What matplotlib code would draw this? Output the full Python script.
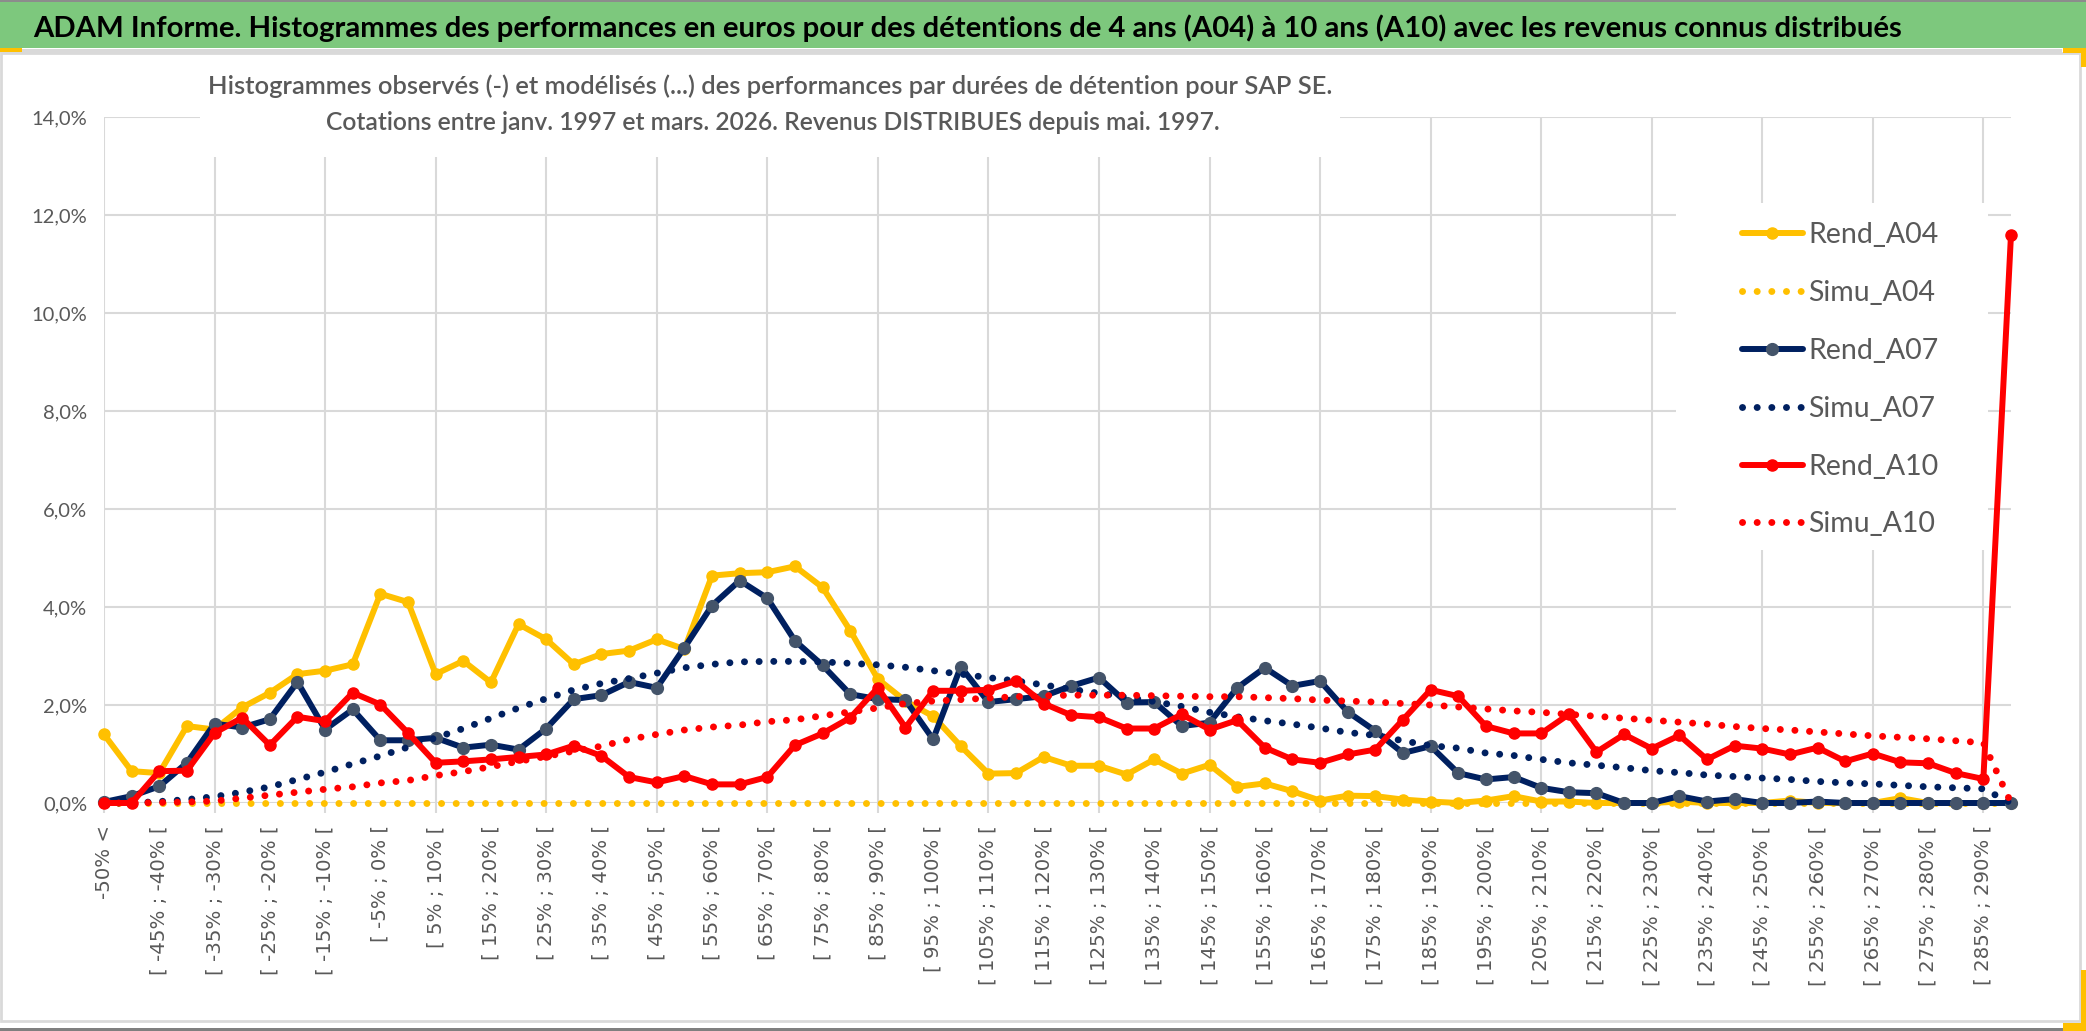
import matplotlib
matplotlib.use("Agg")
import matplotlib.pyplot as plt
from matplotlib.patches import Rectangle

plt.rcParams['font.family'] = ['Lato', 'DejaVu Sans']

# categories: "-50% <" then 5% bins
categories = ["-50% <"] + ["[ %d%% ; %d%% [" % (lo, lo + 5) for lo in range(-50, 295, 5)]

# values in %
rend_a04 = [1.40, 0.65, 0.61, 1.57, 1.50, 1.95, 2.25, 2.63, 2.70, 2.83,
            4.27, 4.10, 2.63, 2.90, 2.46, 3.65, 3.34, 2.83, 3.04, 3.11,
            3.34, 3.14, 4.64, 4.69, 4.71, 4.83, 4.40, 3.52, 2.53, 2.08,
            1.77, 1.16, 0.60, 0.61, 0.94, 0.76, 0.76, 0.58, 0.89, 0.60,
            0.78, 0.33, 0.40, 0.24, 0.05, 0.15, 0.14, 0.07, 0.03, 0.00,
            0.05, 0.14, 0.03, 0.03, 0.00, 0.00, 0.00, 0.03, 0.00, 0.00,
            0.00, 0.05, 0.00, 0.00, 0.00, 0.10, 0.00, 0.00, 0.00, 0.00]
simu_a04 = [0.00, 0.00, 0.00, 0.00, 0.00, 0.00, 0.00, 0.00, 0.00, 0.00,
            0.00, 0.00, 0.00, 0.00, 0.00, 0.00, 0.00, 0.00, 0.00, 0.00,
            0.00, 0.00, 0.00, 0.00, 0.00, 0.00, 0.00, 0.00, 0.00, 0.00,
            0.00, 0.00, 0.00, 0.00, 0.00, 0.00, 0.00, 0.00, 0.00, 0.00,
            0.00, 0.00, 0.00, 0.00, 0.00, 0.00, 0.00, 0.00, 0.00, 0.00,
            0.00, 0.00, 0.00, 0.00, 0.00, 0.00, 0.00, 0.00, 0.00, 0.00,
            0.00, 0.00, 0.00, 0.00, 0.00, 0.00, 0.00, 0.00, 0.00, 0.00]
rend_a07 = [0.02, 0.14, 0.34, 0.82, 1.62, 1.54, 1.71, 2.47, 1.50, 1.91,
            1.28, 1.28, 1.33, 1.13, 1.19, 1.09, 1.52, 2.12, 2.20, 2.47,
            2.35, 3.17, 4.03, 4.54, 4.18, 3.31, 2.81, 2.22, 2.12, 2.10,
            1.30, 2.78, 2.06, 2.12, 2.18, 2.39, 2.56, 2.05, 2.06, 1.57,
            1.64, 2.35, 2.76, 2.39, 2.49, 1.86, 1.47, 1.02, 1.16, 0.61,
            0.48, 0.53, 0.31, 0.22, 0.20, 0.00, 0.00, 0.14, 0.03, 0.08,
            0.00, 0.00, 0.03, 0.00, 0.00, 0.00, 0.00, 0.00, 0.00, 0.00]
simu_a07 = [0.00, 0.00, 0.03, 0.07, 0.13, 0.22, 0.33, 0.48, 0.63, 0.80,
            0.96, 1.14, 1.33, 1.52, 1.73, 1.94, 2.13, 2.31, 2.44, 2.54,
            2.65, 2.76, 2.83, 2.88, 2.89, 2.89, 2.88, 2.85, 2.82, 2.77,
            2.70, 2.63, 2.56, 2.49, 2.41, 2.32, 2.24, 2.16, 2.07, 1.97,
            1.85, 1.76, 1.68, 1.61, 1.53, 1.44, 1.38, 1.27, 1.17, 1.12,
            1.02, 0.97, 0.89, 0.82, 0.77, 0.72, 0.66, 0.62, 0.57, 0.54,
            0.51, 0.48, 0.44, 0.41, 0.39, 0.36, 0.33, 0.31, 0.29, 0.00]
rend_a10 = [0.00, 0.00, 0.65, 0.66, 1.43, 1.74, 1.18, 1.76, 1.67, 2.25,
            2.01, 1.43, 0.82, 0.85, 0.89, 0.94, 0.99, 1.17, 0.96, 0.53,
            0.42, 0.55, 0.38, 0.38, 0.53, 1.18, 1.42, 1.74, 2.35, 1.54,
            2.29, 2.29, 2.31, 2.49, 2.03, 1.79, 1.75, 1.52, 1.52, 1.81,
            1.50, 1.69, 1.13, 0.89, 0.82, 0.99, 1.09, 1.70, 2.31, 2.18,
            1.57, 1.42, 1.42, 1.81, 1.04, 1.40, 1.11, 1.38, 0.89, 1.17,
            1.11, 0.99, 1.13, 0.85, 1.01, 0.83, 0.81, 0.61, 0.49, 11.60]
simu_a10 = [0.00, 0.00, 0.01, 0.02, 0.04, 0.10, 0.16, 0.22, 0.28, 0.33,
            0.41, 0.46, 0.56, 0.64, 0.74, 0.85, 0.95, 1.06, 1.16, 1.30,
            1.40, 1.49, 1.55, 1.59, 1.66, 1.70, 1.78, 1.86, 1.94, 2.03,
            2.08, 2.11, 2.14, 2.17, 2.19, 2.20, 2.20, 2.20, 2.19, 2.18,
            2.17, 2.17, 2.15, 2.13, 2.10, 2.08, 2.06, 2.03, 2.00, 1.96,
            1.92, 1.88, 1.85, 1.81, 1.77, 1.73, 1.69, 1.65, 1.61, 1.56,
            1.52, 1.49, 1.45, 1.41, 1.37, 1.34, 1.31, 1.27, 1.23, 0.00]

title = ("ADAM Informe. Histogrammes des performances en euros pour des détentions "
         "de 4 ans (A04) à 10 ans (A10) avec les revenus connus distribués")
sub1 = "Histogrammes observés (-) et modélisés (...) des performances par durées de détention pour SAP SE."
sub2 = "Cotations entre janv. 1997 et mars. 2026. Revenus DISTRIBUES depuis mai. 1997."

W, H = 2086, 1031
GRAY = '#595959'
GRID = '#D9D9D9'

fig = plt.figure(figsize=(W / 100, H / 100), dpi=100)


def box(x0, y0, x1, y1, color, ec='none', lw=0):
    # rectangle given in pixels from top-left, drawn behind the axes
    r = Rectangle((x0 / W, 1 - y1 / H), (x1 - x0) / W, (y1 - y0) / H,
                  transform=fig.transFigure, facecolor=color, edgecolor=ec,
                  lw=lw, zorder=-5)
    fig.patches.append(r)


# frame, banner and small handles
box(1, 53, 2080, 1021, 'white', ec=GRID, lw=2)
box(0, 0, W, 48, '#7DC87D')
box(0, 0, W, 1.5, '#8C8C8C')
box(0, 49, 2062, 53, GRID)
box(0, 1028, 2063, 1031, '#7F7F7F')
box(0, 48, 22, 52, '#FFC000')
box(2063, 48, W, 53, '#FFC000')
box(2081, 48, W, 67, '#FFC000')
box(2081, 970, W, 1031, '#FFC000')
box(2063, 1023, W, 1031, '#FFC000')

ax = fig.add_axes([104 / W, 1 - 803 / H, (2011 - 104) / W, (803 - 117) / H])
ax.set_facecolor('none')
x = list(range(len(categories)))

dots = (0, (0.01, 2.1))
ax.plot(x, rend_a04, color='#FFC000', lw=4.3, marker='o', ms=8, label='Rend_A04',
        solid_joinstyle='round', solid_capstyle='round', clip_on=False, zorder=3)
ax.plot(x, simu_a04, color='#FFC000', lw=5, ls=dots, label='Simu_A04',
        dash_capstyle='round', clip_on=False, zorder=3)
ax.plot(x, rend_a07, color='#002060', lw=4.3, marker='o', ms=8.5, mfc='#44546A', mec='#44546A',
        label='Rend_A07', solid_joinstyle='round', solid_capstyle='round', clip_on=False, zorder=3)
ax.plot(x, simu_a07, color='#002060', lw=5, ls=dots, label='Simu_A07',
        dash_capstyle='round', clip_on=False, zorder=3)
ax.plot(x, rend_a10, color='#FF0000', lw=4.3, marker='o', ms=8, label='Rend_A10',
        solid_joinstyle='round', solid_capstyle='round', clip_on=False, zorder=3)
ax.plot(x, simu_a10, color='#FF0000', lw=5, ls=dots, label='Simu_A10',
        dash_capstyle='round', clip_on=False, zorder=3)

ax.set_xlim(0, len(categories) - 1)
ax.set_ylim(0, 14)
yt = list(range(0, 15, 2))
ax.set_yticks(yt, [("%.1f%%" % v).replace('.', ',') for v in yt])
ax.set_xticks(x[::2], categories[::2], rotation=90)
ax.set_xticks(x[::4], minor=True)
ax.xaxis.remove_overlapping_locs = False

ax.set_axisbelow(True)
ax.grid(True, axis='y', color=GRID, lw=1.5)
ax.grid(True, axis='x', which='minor', color=GRID, lw=1.5)
for s in ax.spines.values():
    s.set_visible(False)
ax.tick_params(axis='x', which='major', length=0, pad=16, labelsize=14.2, labelcolor=GRAY)
ax.tick_params(axis='x', which='minor', length=7, width=1.5, color=GRID)
ax.tick_params(axis='y', length=0, pad=12, labelsize=14.5, labelcolor=GRAY)
for t in ax.get_xticklabels():
    t.set_family('DejaVu Sans')

# white boxes behind subtitle and legend
for (x0, y0, x1, y1) in [(200, 60, 1340, 157), (1676, 203, 1988, 550)]:
    r = Rectangle((x0 / W, 1 - y1 / H), (x1 - x0) / W, (y1 - y0) / H, transform=fig.transFigure,
                  facecolor='white', edgecolor='none', zorder=1, clip_on=False)
    ax.add_patch(r)

leg = ax.legend(loc='upper left', bbox_to_anchor=(1742 / W, 1 - 222 / H),
                bbox_transform=fig.transFigure, frameon=False, fontsize=20.5,
                labelcolor=GRAY, handlelength=2.14, handletextpad=0.18,
                labelspacing=1.12, borderpad=0, borderaxespad=0, numpoints=1)

t0 = fig.text(33 / W, 1 - 37 / H, title, fontsize=20, weight='bold', color='black',
              ha='left', va='baseline')
t1 = fig.text(770 / W, 1 - 94 / H, sub1, fontsize=16, weight='semibold', color=GRAY,
              ha='center', va='baseline')
t2 = fig.text(773 / W, 1 - 130 / H, sub2, fontsize=16, weight='semibold', color=GRAY,
              ha='center', va='baseline')

# adjust sizes so the texts span the same widths as in the original
renderer = fig.canvas.get_renderer()
for t, w in [(t0, 1867), (t1, 1127), (t2, 895)]:
    cur = t.get_window_extent(renderer).width
    t.set_fontsize(t.get_fontsize() * w / cur)

fig.savefig('out.png', dpi=100)
